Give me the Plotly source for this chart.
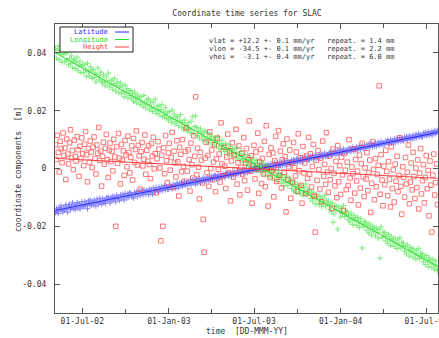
import pandas as pd
import plotly.graph_objects as go

# ---------------- data (millimetres) ----------------
start_date = "2002-05-05"
step = "2D"

lat_mm = [
    -15.2, -13.8, -14.9, -15.6, -13.5, -14.1, -12.9, -14.6, -15.0, -13.3,
    -14.4, -12.6, -13.9, -15.1, -13.0, -12.4, -14.2, -13.6, -11.9, -13.8,
    -12.5, -14.3, -13.0, -11.8, -13.6, -12.2, -14.0, -12.8, -11.6, -13.1,
    -13.2, -11.4, -12.8, -12.0, -13.9, -11.2, -12.5, -10.9, -12.7, -11.6,
    -12.6, -11.0, -11.9, -13.0, -10.6, -11.7, -12.2, -10.3, -11.5, -12.4,
    -10.4, -11.8, -10.9, -12.1, -10.2, -11.3, -9.8, -10.7, -11.9, -10.1,
    -11.2, -9.6, -10.8, -10.0, -11.5, -9.3, -10.4, -9.9, -11.0, -9.2,
    -10.5, -9.0, -9.7, -10.9, -8.6, -9.5, -10.1, -8.8, -9.9, -8.4,
    -8.5, -9.8, -9.1, -10.2, -8.3, -9.0, -8.1, -9.6, -8.7, -7.9,
    -9.3, -7.8, -8.6, -9.1, -7.4, -8.2, -8.9, -7.6, -8.0, -9.0,
    -7.1, -8.4, -7.5, -8.9, -6.8, -7.7, -8.1, -6.6, -7.3, -8.0,
    -6.5, -7.8, -7.0, -6.2, -7.6, -6.9, -5.9, -7.3, -6.4, -7.1,
    -7.2, -5.8, -6.6, -6.1, -7.0, -5.5, -6.3, -5.7, -6.9, -5.2,
    -5.4, -6.7, -5.1, -5.9, -4.8, -6.2, -5.5, -4.6, -5.8, -5.0,
    -5.9, -4.5, -5.2, -4.0, -5.6, -4.8, -3.9, -5.1, -4.3, -5.4,
    -3.8, -5.0, -4.2, -3.5, -4.9, -3.9, -4.6, -3.2, -4.1, -3.6,
    -4.5, -3.1, -3.8, -4.2, -2.9, -3.6, -2.6, -3.9, -3.0, -2.5,
    -2.6, -3.7, -2.9, -2.1, -3.4, -2.5, -3.0, -1.9, -2.8, -2.2,
    -3.1, -1.8, -2.4, -1.5, -2.7, -2.0, -1.4, -2.6, -1.7, -2.2,
    -1.2, -2.3, -1.6, -0.9, -2.0, -1.4, -0.8, -1.8, -1.1, -0.6,
    -1.7, -0.5, -1.1, -0.2, -1.4, -0.7, -0.1, -1.0, -0.4, 0.2,
    -0.9, 0.3, -0.4, 0.6, -0.7, 0.1, -0.2, 0.9, -0.5, 0.4,
    0.8, -0.3, 0.5, 1.2, 0.0, 0.7, 1.4, 0.2, 0.9, 1.6,
    0.4, 1.5, 0.9, 1.9, 0.6, 1.3, 2.0, 0.8, 1.7, 1.1,
    2.2, 1.0, 1.8, 2.5, 1.3, 2.0, 2.7, 1.5, 2.3, 1.7,
    1.6, 2.8, 2.2, 3.1, 1.9, 2.6, 3.3, 2.1, 2.9, 2.4,
    3.5, 2.3, 3.0, 3.8, 2.6, 3.2, 4.0, 2.9, 3.6, 3.1,
    3.0, 4.2, 3.6, 4.5, 3.3, 3.9, 4.7, 3.4, 4.3, 3.8,
    4.8, 3.7, 4.4, 5.1, 4.0, 4.6, 5.3, 4.2, 4.9, 4.5,
    4.3, 5.5, 4.9, 5.8, 4.6, 5.2, 6.0, 4.8, 5.6, 5.1,
    6.2, 5.0, 5.7, 6.5, 5.3, 5.9, 6.7, 5.5, 6.3, 5.8,
    5.6, 6.8, 6.2, 7.1, 5.9, 6.5, 7.3, 6.1, 6.9, 6.4,
    7.5, 6.4, 7.0, 7.8, 6.7, 7.3, 8.0, 6.9, 7.6, 7.1,
    7.0, 8.2, 7.6, 8.5, 7.3, 7.9, 8.7, 7.5, 8.3, 7.8,
    8.8, 7.7, 8.4, 9.1, 8.0, 8.6, 9.3, 8.2, 8.9, 8.5,
    8.3, 9.5, 8.9, 9.8, 8.6, 9.2, 10.0, 8.8, 9.6, 9.1,
    10.2, 9.0, 9.7, 10.5, 9.3, 9.9, 10.7, 9.5, 10.3, 9.8,
    9.6, 10.8, 10.2, 11.1, 9.9, 10.5, 11.3, 10.1, 10.9, 10.4,
    11.5, 10.4, 11.0, 11.8, 10.7, 11.3, 12.0, 10.9, 11.6, 11.1,
    11.0, 12.2, 11.6, 12.5, 11.3, 11.9, 12.7, 11.5, 12.3, 11.8,
    12.8, 11.7, 12.4, 13.1, 12.0, 12.6, 13.2,
]

lon_mm = [
    41.5, 38.2, 40.8, 42.3, 37.6, 39.9, 41.2, 36.8, 39.4, 40.6,
    36.9, 39.8, 37.5, 40.4, 35.8, 38.1, 36.2, 39.0, 34.9, 37.3,
    37.9, 34.6, 36.8, 38.5, 33.9, 35.7, 37.1, 33.2, 35.4, 36.0,
    33.1, 35.9, 34.2, 31.8, 36.4, 33.5, 32.0, 35.1, 33.8, 31.2,
    34.3, 31.5, 33.0, 29.9, 32.6, 34.8, 30.7, 31.9, 33.4, 30.2,
    29.5, 32.4, 30.1, 28.6, 31.7, 29.9, 33.0, 28.2, 30.5, 29.0,
    30.6, 27.4, 29.3, 31.2, 26.8, 28.7, 30.0, 26.2, 28.1, 29.6,
    25.9, 28.5, 26.7, 24.8, 28.9, 26.1, 27.6, 24.4, 26.9, 25.3,
    27.0, 24.1, 25.8, 23.2, 26.4, 24.6, 22.7, 25.5, 23.9, 24.8,
    22.1, 24.9, 23.0, 21.5, 25.3, 22.6, 20.9, 23.8, 22.2, 24.1,
    20.3, 23.1, 21.2, 19.7, 22.8, 20.8, 24.0, 19.1, 21.5, 20.0,
    21.6, 18.5, 20.4, 22.1, 17.9, 19.6, 18.2, 21.0, 17.3, 19.2,
    16.8, 19.7, 17.6, 15.9, 20.2, 17.1, 18.8, 15.4, 17.9, 16.3,
    17.9, 14.8, 16.5, 18.6, 14.2, 15.9, 13.6, 16.8, 15.1, 13.9,
    13.0, 15.8, 14.1, 12.4, 16.3, 13.5, 17.9, 12.0, 14.6, 18.2,
    14.2, 11.3, 12.9, 10.6, 13.7, 12.0, 9.9, 12.6, 11.0, 13.1,
    9.4, 12.3, 10.5, 8.8, 11.8, 9.9, 11.2, 8.1, 10.3, 9.0,
    10.6, 7.7, 9.4, 11.1, 7.0, 8.7, 6.5, 9.8, 8.0, 6.9,
    5.9, 8.6, 6.7, 4.9, 8.2, 6.1, 7.5, 4.4, 6.6, 5.3,
    6.9, 3.9, 5.6, 7.3, 3.4, 5.0, 2.8, 5.9, 4.2, 3.1,
    2.2, 5.0, 3.1, 1.4, 4.6, 2.6, 0.8, 3.7, 1.9, 3.0,
    3.3, 0.4, 2.0, -0.5, 2.8, 1.1, -0.9, 1.7, 0.3, 2.2,
    -1.4, 1.5, -0.5, -2.3, 1.0, -1.0, 0.4, -2.8, -0.7, -1.9,
    -0.3, -3.2, -1.5, -4.1, -0.8, -2.6, -4.5, -1.9, -3.0, -2.2,
    -5.2, -2.3, -4.0, -6.1, -3.1, -4.8, -2.6, -5.9, -3.6, -4.5,
    -4.0, -6.9, -5.2, -7.8, -4.6, -6.3, -8.4, -5.6, -7.0, -6.0,
    -8.8, -5.9, -7.6, -9.4, -6.5, -8.1, -5.4, -9.1, -7.2, -8.5,
    -7.6, -10.4, -8.8, -11.3, -8.2, -9.9, -12.1, -9.0, -10.6, -9.6,
    -12.5, -9.7, -11.3, -13.2, -10.2, -11.9, -9.3, -13.0, -11.0, -12.3,
    -11.3, -14.1, -12.5, -15.0, -11.9, -18.6, -15.8, -12.8, -14.4, -13.2,
    -21.0, -13.3, -14.9, -16.8, -13.8, -15.5, -12.9, -16.6, -14.6, -15.9,
    -14.9, -17.7, -16.1, -18.6, -15.5, -17.2, -19.4, -16.3, -18.0, -16.9,
    -19.7, -16.9, -18.5, -20.4, -17.4, -19.1, -27.5, -20.2, -18.3, -19.5,
    -18.6, -21.4, -19.8, -22.3, -19.2, -20.9, -23.1, -20.0, -21.7, -20.6,
    -23.4, -20.6, -22.2, -24.1, -21.1, -31.0, -20.2, -23.9, -22.0, -23.2,
    -22.2, -25.0, -23.4, -25.9, -22.8, -24.5, -26.7, -23.6, -25.3, -24.2,
    -27.0, -24.2, -25.8, -27.7, -24.7, -26.4, -23.9, -27.5, -25.6, -26.8,
    -25.8, -28.6, -27.0, -29.5, -26.4, -28.1, -30.3, -27.2, -28.9, -27.8,
    -30.7, -27.9, -29.5, -31.4, -28.4, -30.1, -27.6, -31.2, -29.3, -30.5,
    -29.5, -32.3, -30.7, -33.2, -30.1, -31.8, -34.0, -30.9, -32.6, -31.5,
    -34.3, -31.5, -33.1, -35.0, -32.0, -33.7, -35.3,
]

hei_mm = [
    8.2, 3.1, 11.5, 5.6, -1.2, 9.4, 6.8, 2.0, 12.3, 4.5,
    7.1, -3.8, 10.2, 5.0, 1.6, 8.9, 13.4, 3.7, 6.2, -0.4,
    9.8, 4.1, 2.6, 11.0, 6.5, -2.7, 7.7, 3.3, 10.6, 5.2,
    1.0, 8.4, 12.8, 4.8, -4.6, 6.9, 2.2, 9.5, 5.7, 0.3,
    7.4, 10.9, 3.5, -1.9, 8.1, 5.3, 14.2, 2.8, 6.0, -6.1,
    4.2, 9.1, 1.5, 7.0, 11.8, 3.0, -3.1, 6.4, 8.8, 2.4,
    5.9, -0.8, 10.1, 4.0, -20.0, 7.6, 1.8, 12.1, 3.6, -5.3,
    8.3, 2.9, 6.1, -2.4, 9.7, 4.7, 0.6, 11.2, 5.5, -1.5,
    3.9, 7.8, -4.0, 10.4, 2.1, 6.6, 13.0, 1.2, 8.0, 4.4,
    -7.2, 5.8, 9.0, 0.9, 3.2, 11.6, -2.0, 6.3, 2.5, 7.9,
    1.4, -3.5, 8.6, 4.3, 10.8, -0.1, 5.1, -8.4, 3.4, 9.3,
    6.7, 0.2, -25.0, 4.6, -20.0, 7.2, -1.8, 11.4, 2.7, -4.9,
    5.4, 8.7, -0.6, 3.8, 12.5, -6.6, 6.0, 1.9, -2.9, 9.6,
    2.3, -9.5, 7.3, 4.9, -1.1, 10.0, 0.7, -4.4, 5.9, 14.0,
    -0.9, 6.5, 3.1, -7.8, 8.8, 1.3, -3.3, 11.3, 4.2, 24.8,
    -2.2, 7.0, 0.5, -10.5, 5.6, 2.9, -5.0, -17.6, -29.0, 3.6,
    9.1, -1.4, 4.5, -6.2, 12.7, 0.0, 6.4, -3.9, 2.2, 8.2,
    -8.0, 3.3, 10.5, -0.3, 5.0, -4.7, 15.8, 1.6, -2.5, 7.4,
    0.8, -6.9, 4.0, 11.9, -1.6, 6.1, -11.2, 2.6, 8.9, -3.0,
    4.7, -0.5, 13.6, -5.4, 2.0, 7.8, -9.1, 0.4, 5.3, -2.1,
    10.7, -4.2, 1.8, 6.9, -7.5, 3.1, 16.5, -1.0, 4.4, -12.0,
    0.9, 8.0, -3.6, 5.7, -0.2, 12.2, -8.6, 2.4, 6.6, -5.2,
    3.5, -1.9, 9.4, -6.3, 14.8, 0.1, -13.0, 4.9, -3.1, 7.1,
    -0.7, 5.4, -9.8, 2.7, 11.1, -4.5, 1.2, 13.1, -2.4, 6.0,
    -6.7, 3.0, 8.5, -1.3, 4.1, -15.0, 10.2, -3.8, 0.6, 6.4,
    -10.3, 2.1, -4.8, 9.0, 0.3, -2.6, 5.7, -7.9, 12.0, -0.8,
    3.7, -5.8, -12.0, 7.6, -1.5, 1.9, -8.7, 4.4, -3.4, 10.8,
    -2.0, 5.1, -6.4, 0.7, 8.3, -9.6, -22.0, 2.8, -4.1, 6.2,
    -0.4, -7.1, 3.6, -11.5, 9.5, -2.7, 1.4, -5.5, 12.4, -1.2,
    -8.2, 4.3, -3.9, 0.0, -13.8, 6.7, -1.7, -6.0, 2.5, -10.1,
    7.9, -4.6, 1.0, -9.0, 3.9, -2.2, -14.5, 5.2, -0.6, -7.3,
    2.2, -5.9, 10.0, -3.3, -11.0, 0.5, -1.8, 6.8, -8.5, 3.1,
    -4.3, -0.9, -12.6, 4.6, -6.8, 1.7, 8.7, -2.9, -9.7, 0.2,
    -3.6, 5.5, -7.7, -1.4, 2.9, -15.2, -5.1, 9.3, -0.3, -10.8,
    3.4, -6.3, -2.1, 1.1, 28.6, -8.9, 4.8, -4.0, -12.9, 0.8,
    -5.6, 6.3, -1.0, -9.4, 2.4, -3.7, -13.3, 7.5, -6.9, -0.5,
    -11.6, 1.5, -4.4, 4.2, -8.0, -2.4, 10.6, -6.2, -15.8, 0.6,
    -3.0, -9.9, 3.8, -5.3, -1.3, 8.1, -12.2, -4.7, 1.9, -7.4,
    5.6, -2.8, -10.4, 0.1, -6.6, 3.0, -14.0, -1.6, 6.9, -8.8,
    -4.2, 1.3, -11.9, -3.1, 4.5, -7.0, -0.7, -16.4, 2.6, -5.8,
    -22.0, -2.3, 5.0, -9.2, -4.9, 1.6, -12.5,
]

# fitted trend lines (end values, mm)
fit_dates = ["2002-05-05", "2004-07-25"]
lat_fit_mm = [-14.5, 12.5]
lon_fit_mm = [40.0, -33.9]
hei_fit_mm = [3.5, -3.4]

series_names = ["Latitude", "Longitude", "Height"]
x_tick_vals = ["2002-07-01", "2003-01-01", "2003-07-01", "2004-01-01", "2004-07-01"]
x_tick_text = ["01-Jul-02", "01-Jan-03", "01-Jul-03", "01-Jan-04", "01-Jul-04"]
x_minor_vals = ["2002-10-01", "2003-04-01", "2003-10-01", "2004-04-01"]
y_tick_vals = [-0.04, -0.02, 0, 0.02, 0.04]
y_tick_text = ["-0.04", "-0.02", "0", "0.02", "0.04"]

stats_lines = [
    "vlat = +12.2 +- 0.1 mm/yr   repeat. = 1.4 mm",
    "vlon = -34.5 +- 0.1 mm/yr   repeat. = 2.2 mm",
    "vhei =  -3.1 +- 0.4 mm/yr   repeat. = 6.0 mm",
]

# ---------------- styling ----------------
BLUE = "#2a2aff"
GREEN = "#22e022"
RED = "#ff3c3c"
FONT = "DejaVu Sans Mono"
TXT = "#333333"
FRAME = "#555555"

W, H = 439, 338
ML, MR, MT, MB = 55, 1, 24, 25
PW, PH = W - ML - MR, H - MT - MB


def px(xp):
    return (xp - ML) / PW


def py(yp):
    return (H - MB - yp) / PH


def dates_for(vals):
    return pd.date_range(start_date, periods=len(vals), freq=step)


def to_m(vals):
    return [v / 1000.0 for v in vals]


fig = go.Figure()

fig.add_trace(go.Scatter(
    x=dates_for(lat_mm), y=to_m(lat_mm), mode="markers", name="Latitude",
    marker=dict(symbol="cross-thin", size=4, color=BLUE, line=dict(color=BLUE, width=1)),
    opacity=0.6, showlegend=False))
fig.add_trace(go.Scatter(
    x=dates_for(lon_mm), y=to_m(lon_mm), mode="markers", name="Longitude",
    marker=dict(symbol="cross-thin", size=4, color=GREEN, line=dict(color=GREEN, width=1)),
    opacity=0.6, showlegend=False))
fig.add_trace(go.Scatter(
    x=dates_for(hei_mm), y=to_m(hei_mm), mode="markers", name="Height",
    marker=dict(symbol="square-open", size=4.5, color=RED, line=dict(color=RED, width=1)),
    opacity=0.7, showlegend=False))

for vals, col in [(lat_fit_mm, BLUE), (lon_fit_mm, GREEN), (hei_fit_mm, RED)]:
    fig.add_trace(go.Scatter(x=fit_dates, y=to_m(vals), mode="lines",
                             line=dict(color=col, width=1), showlegend=False,
                             hoverinfo="skip"))

NB = "\u00a0"
annotations = []
for i, line in enumerate(stats_lines):
    annotations.append(dict(
        xref="paper", yref="paper", x=px(207), y=py(41 + 8 * i),
        xanchor="left", yanchor="middle", showarrow=False,
        text=line.replace(" ", NB), font=dict(family=FONT, size=7, color=TXT)))

# legend (box, right-aligned labels, line samples)
shapes = [dict(type="rect", xref="paper", yref="paper",
               x0=px(60), x1=px(133), y0=py(52), y1=py(27),
               line=dict(color="#222222", width=1), fillcolor="white", layer="above")]
for i, (nm, col) in enumerate(zip(series_names, [BLUE, GREEN, RED])):
    yy = py(32 + 7.5 * i)
    annotations.append(dict(xref="paper", yref="paper", x=px(110), y=yy,
                            xanchor="right", yanchor="middle", showarrow=False,
                            text=nm, font=dict(family=FONT, size=7, color=col)))
    shapes.append(dict(type="line", xref="paper", yref="paper",
                       x0=px(115), x1=px(129), y0=yy, y1=yy,
                       line=dict(color=col, width=1), layer="above"))

# axis titles
annotations.append(dict(xref="paper", yref="paper", x=px(247), y=py(331),
                        xanchor="center", yanchor="middle", showarrow=False,
                        text="time" + NB * 2 + "[DD-MMM-YY]",
                        font=dict(family=FONT, size=8, color=TXT)))
annotations.append(dict(xref="paper", yref="paper", x=px(18), y=py(170),
                        xanchor="center", yanchor="middle", showarrow=False,
                        textangle=-90,
                        text="coordinate" + NB + "components" + NB * 2 + "[m]",
                        font=dict(family=FONT, size=8, color=TXT)))

fig.update_layout(
    width=W, height=H,
    margin=dict(l=ML, r=MR, t=MT, b=MB, autoexpand=False),
    paper_bgcolor="white", plot_bgcolor="white",
    font=dict(family=FONT, size=8, color=TXT),
    title=dict(text="Coordinate time series for SLAC", x=247 / W, xanchor="center",
               y=1 - 13 / H, yanchor="middle", font=dict(family=FONT, size=8, color=TXT)),
    annotations=annotations, shapes=shapes,
    showlegend=False,
)

fig.update_xaxes(
    type="date", range=["2002-05-04", "2004-07-26"], automargin=False,
    tickmode="array", tickvals=x_tick_vals, ticktext=x_tick_text,
    ticklabeloverflow="allow",
    ticks="inside", ticklen=5, tickcolor=FRAME, tickwidth=1,
    minor=dict(tickmode="array", tickvals=x_minor_vals, ticks="inside", ticklen=4,
               tickcolor=FRAME, showgrid=False),
    showline=True, linecolor=FRAME, linewidth=1, mirror="ticks",
    showgrid=False, zeroline=False,
    tickfont=dict(family=FONT, size=8, color=TXT),
)
fig.update_yaxes(
    range=[-0.05, 0.05], automargin=False,
    tickmode="array", tickvals=y_tick_vals, ticktext=y_tick_text,
    ticks="inside", ticklen=5, tickcolor=FRAME, tickwidth=1,
    showline=True, linecolor=FRAME, linewidth=1, mirror="ticks",
    showgrid=False, zeroline=False, ticklabelstandoff=6,
    tickfont=dict(family=FONT, size=8, color=TXT),
)

fig.write_html(
    "out.html",
    config={"displayModeBar": False},
    post_script="document.body.style.margin='0';document.body.style.overflow='hidden';",
)
